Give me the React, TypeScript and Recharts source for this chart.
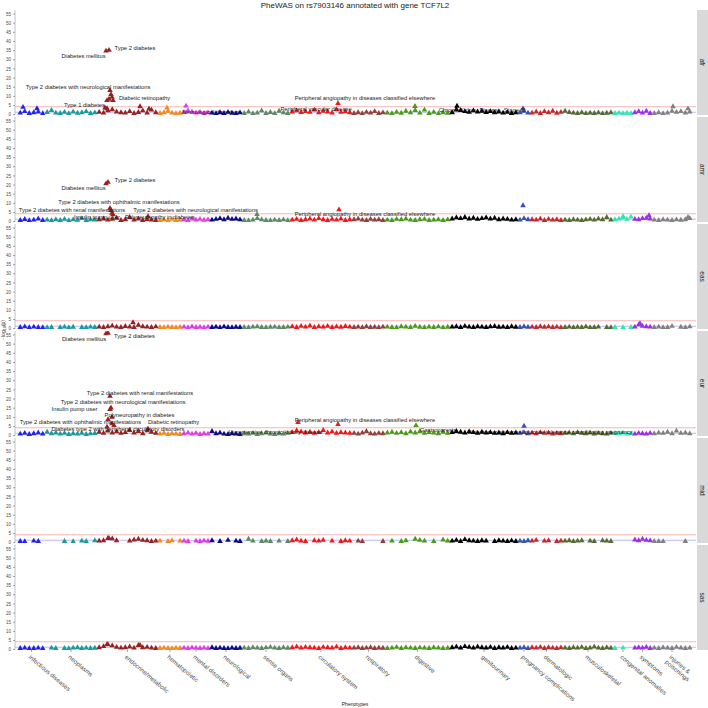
import React from "react";
import { ScatterChart, Scatter, XAxis, YAxis, ReferenceLine } from "recharts";

const categories = [
  "infectious diseases", "neoplasms", "endocrine/metabolic", "hematopoietic",
  "mental disorders", "neurological", "sense organs", "circulatory system",
  "respiratory", "digestive", "genitourinary", "pregnancy complications",
  "dermatologic", "musculoskeletal", "congenital anomalies", "symptoms",
  "injuries & poisonings",
];
const categoryColors = [
  "#2323e6", "#1a9a9a", "#962222", "#f28a1c", "#e43ce4", "#0b0b88",
  "#5f8a5f", "#f01818", "#93403a", "#4c9a16", "#000000", "#3553b0",
  "#c42a2a", "#566b30", "#2ee6b0", "#9b30e6", "#808080",
];
// phenotype index range of each category
const categorySpan: [number, number][] = [
  [3, 30], [30, 82], [82, 143], [143, 167], [167, 195], [195, 227], [227, 275],
  [275, 337], [337, 370], [370, 435], [435, 503], [503, 515], [515, 548],
  [548, 598], [598, 618], [618, 637], [637, 677],
];
const yTicks = [0, 5, 10, 15, 20, 25, 30, 35, 40, 45, 50, 55];
const bonferroni = 4.3;
const nominal = 1.3;

// background -log10(p) per category, per ancestry
const afrBase = [
  [1.2, 2.0, 1.0, 1.4, 1.8, 0.8],
  [1.5, 2.6, 1.2, 1.0, 1.6, 0.9, 1.8, 1.1, 1.4, 2.0, 1.0, 1.3],
  [1.6, 1.2, 2.5, 3.0, 1.8, 1.4, 1.2, 2.0, 1.0, 1.5, 2.4, 1.2, 2.8, 1.4],
  [1.0, 1.4, 2.2, 1.2, 0.8, 1.1],
  [1.5, 2.4, 1.8, 1.2, 1.6, 1.0, 1.3],
  [1.2, 0.9, 1.4, 1.0, 1.6, 1.1, 0.8, 1.3],
  [1.0, 1.8, 0.8, 1.2, 2.4, 1.0, 1.5, 0.9, 2.2, 1.3, 1.0],
  [1.8, 2.4, 1.5, 2.0, 1.6, 2.8, 1.4, 2.2, 1.8, 1.2, 3.0, 1.6, 1.9, 1.4],
  [1.0, 1.4, 0.8, 1.6, 1.2, 2.0, 1.0, 1.3],
  [1.2, 0.9, 1.6, 1.1, 2.2, 1.4, 2.6, 1.2, 2.8, 1.0, 1.6, 0.8, 1.4, 1.1],
  [1.4, 3.0, 2.6, 2.0, 1.6, 2.4, 1.8, 2.2, 1.5, 2.0, 1.4, 1.8, 1.2, 1.6, 1.0, 1.3],
  [1.4, 2.2, 1.2],
  [1.2, 1.8, 1.0, 2.0, 1.4, 2.2, 1.1, 1.6],
  [2.2, 1.5, 1.2, 1.0, 1.4, 0.9, 1.2, 1.0, 1.3, 0.8, 1.1, 1.4],
  [1.0, 1.2, 0.8, 1.1, 0.9],
  [1.4, 2.0, 1.2, 2.2, 1.0],
  [1.0, 1.4, 0.8, 1.2, 2.2, 1.6, 2.0, 1.2, 1.8],
];
const amrBase = [
  [1.0, 1.5, 0.8, 1.2, 1.8, 1.0],
  [1.2, 0.9, 1.4, 1.0, 1.6, 0.8, 1.3, 1.1, 2.0, 1.0, 1.4, 1.2],
  [1.4, 1.8, 1.2, 1.6, 2.2, 1.0, 1.4, 2.6, 1.2, 1.8, 1.0, 1.5, 1.2, 1.0],
  [1.0, 1.3, 0.9, 1.6, 1.0, 1.2],
  [1.4, 1.0, 1.8, 1.2, 1.6, 1.1, 1.3],
  [1.2, 1.6, 2.0, 1.4, 2.2, 1.6, 1.8, 1.3],
  [1.0, 0.8, 1.2, 2.0, 1.4, 1.0, 0.9, 1.2, 1.0, 1.3, 0.8],
  [1.2, 1.6, 1.0, 1.4, 1.8, 1.2, 2.0, 1.4, 1.0, 1.6, 1.2, 1.8, 1.0, 1.4],
  [1.4, 1.8, 1.2, 1.0, 1.6, 1.2, 1.4, 1.0],
  [1.2, 1.0, 1.6, 1.4, 1.8, 1.2, 1.0, 1.4, 1.6, 1.0, 1.2, 1.4, 1.0, 1.3],
  [1.8, 2.4, 2.0, 2.6, 1.8, 2.2, 1.6, 2.0, 2.4, 1.8, 2.2, 1.4, 1.8, 1.6, 1.2, 1.4],
  [1.2, 2.0, 1.4],
  [1.4, 1.2, 1.8, 1.0, 1.6, 1.2, 1.4, 1.0],
  [1.2, 1.0, 1.4, 1.2, 1.0, 1.3, 1.6, 1.2, 1.8, 1.4, 2.6, 1.2],
  [1.4, 1.8, 2.4, 1.6, 2.8],
  [1.6, 1.4, 2.0, 2.2, 1.8],
  [1.2, 1.0, 1.4, 1.2, 1.0, 1.3, 1.1, 1.4, 2.0],
];
const easBase = [
  [1.0, 1.3, 0.8, 1.2, 1.0, 0.9],
  [0.8, 1.0, null, 0.9, 1.2, 0.8, 1.1, null, 1.0, 0.9, 1.2, 1.0],
  [1.2, 1.0, 1.4, 1.8, 1.2, 1.0, 1.5, 1.2, 1.0, 2.2, 1.4, 1.2, 1.0, 1.3],
  [1.0, 0.8, 1.2, 1.0, 0.9, 1.1],
  [1.2, 0.9, 1.4, 1.0, 1.1, 0.8, 1.2],
  [1.0, 1.2, 0.8, 1.3, 1.0, 0.9, 1.1, 1.0],
  [1.0, 0.9, 1.2, 1.4, 1.0, 0.8, 1.1, 1.2, 0.9, 1.0, 1.2],
  [1.4, 1.0, 1.6, 1.2, 1.8, 1.0, 1.4, 1.2, 1.6, 1.0, 1.3, 1.1, 1.5, 1.2],
  [1.0, 1.2, 0.9, 1.4, 1.0, 1.1, 0.8, 1.2],
  [1.2, 1.0, 0.8, 1.4, 1.2, 1.0, 1.6, 1.1, 0.9, 1.2, 1.0, 1.3, 0.9, 1.1],
  [1.2, 1.4, 1.0, 1.6, 1.2, 1.0, 1.4, 1.2, 1.0, 1.3, 1.5, 1.1, 1.2, 1.0, 1.4, 1.1],
  [1.0, 1.4, 1.1],
  [1.2, 1.0, 1.4, 1.1, 1.3, 1.0, 1.2, 0.9],
  [1.0, 1.2, 0.9, 1.1, 1.0, 1.3, 0.9, 1.0, 1.2, null, 1.0, 0.8],
  [1.0, null, 0.9, null, 1.0],
  [1.2, 2.4, 1.6, 1.4, 1.2],
  [1.0, 1.2, 0.9, 1.0, 1.6, null, 1.1, 0.9, 1.3],
];
const eurBase = [
  [1.2, 1.6, 1.0, 1.4, 1.8, 1.2],
  [2.2, 1.4, 1.8, 1.2, 1.6, 1.0, 1.4, 1.2, 1.6, 1.0, 1.3, 1.5],
  [2.2, 1.6, 2.8, 1.8, 2.4, 1.6, 2.0, 3.2, 1.8, 2.6, 1.4, 3.0, 2.2, 1.6],
  [1.2, 1.6, 1.0, 1.4, 1.2, 1.0],
  [1.4, 1.8, 1.2, 1.6, 1.0, 1.4, 1.2],
  [2.6, 1.4, 1.8, 1.2, 1.0, 1.4, 1.2, 1.0],
  [1.4, 1.2, 1.6, 1.0, 1.4, 1.8, 1.2, 1.0, 1.4, 1.2, 1.6],
  [2.0, 3.0, 2.4, 1.8, 2.2, 1.6, 2.0, 3.2, 1.8, 2.4, 1.6, 2.0, 1.8, 1.6],
  [1.6, 1.2, 1.8, 2.6, 1.4, 1.2, 1.6, 1.4],
  [1.8, 2.2, 1.6, 2.0, 1.4, 2.4, 1.8, 2.6, 1.6, 2.0, 1.8, 1.4, 2.2, 1.6],
  [2.0, 2.6, 2.2, 1.8, 2.4, 2.0, 1.6, 2.2, 1.8, 2.0, 1.6, 1.8, 1.4, 2.0, 1.6, 1.8],
  [1.6, 2.0, 1.4],
  [1.8, 1.4, 2.0, 1.6, 1.8, 1.2, 1.6, 1.4],
  [1.6, 1.8, 1.4, 2.0, 1.6, 1.4, 1.8, 1.2, 1.6, 1.4, 1.2, 1.6],
  [1.6, 1.4, 1.8, 1.2, 1.4],
  [1.2, 1.6, 1.4, 1.2, 1.6],
  [1.4, 1.8, 1.6, 2.2, 1.4, 2.8, 1.6, 1.8, 1.4],
];
const midBase = [
  [1.0, 0.8, null, 1.2, 1.0, null],
  [null, null, null, null, 1.0, null, 0.8, null, 1.2, 1.0, null, 1.4],
  [1.2, 1.4, 2.6, 2.4, 1.4, null, null, 1.2, 1.8, 2.2, 1.6, 1.4, 1.0, 1.2],
  [1.2, null, 1.0, 1.4, null, 1.2],
  [1.2, 1.0, null, 1.2, 1.0, 1.3, 1.1],
  [1.4, null, 1.0, null, 1.6, null, 1.2, 1.0],
  [null, 2.2, 1.2, null, 1.0, 1.2, 1.0, null, 1.2, null, 1.0],
  [1.4, 1.8, 1.2, 1.0, null, 1.4, 1.2, 1.6, null, 1.2, null, 1.0, 1.4, 1.2],
  [null, 1.2, 1.0, null, null, null, null, 1.0],
  [null, 1.2, null, 1.0, 1.4, null, 2.2, 1.6, 1.2, null, 1.0, null, 1.8, 1.2],
  [1.2, 1.6, 1.0, 2.0, 1.4, 1.2, 1.0, 1.4, 1.2, null, 1.0, 1.4, 1.2, 1.0, 1.3, 1.0],
  [1.2, 1.0, 1.4],
  [1.2, 1.6, null, 1.2, 1.4, null, 1.0, 1.2],
  [1.2, 1.4, 1.0, 1.2, 1.4, null, 1.2, 1.0, null, 1.4, 1.2, 1.0],
  [null, null, null, null, null],
  [1.8, 1.4, 2.2, 1.6, 1.4],
  [1.0, 1.0, 0.9, null, null, null, null, 1.0, null],
];
const sasBase = [
  [1.0, 1.2, 0.8, 1.0, 1.2, 0.9],
  [null, 1.2, 1.0, null, 1.0, 0.8, 1.2, 1.4, 1.0, 1.2, 1.0, 1.1],
  [1.4, 2.0, 3.0, 2.4, 1.6, 1.2, 1.4, 1.8, 1.2, 2.6, 1.4, 1.6, 1.2, 1.0],
  [1.0, 1.2, 1.0, 0.8, 1.1, 1.0],
  [1.2, 1.0, 1.3, 1.1, 1.0, 1.2, 0.9],
  [1.4, 1.0, 1.2, 1.0, 0.8, 1.2, 1.0, 1.1],
  [1.2, 1.0, 1.4, 1.2, 1.0, 1.3, 1.6, 1.2, 1.0, 1.4, 1.1],
  [1.4, 1.8, 1.2, 1.6, 1.4, 1.2, 1.0, 1.6, 1.4, 1.2, 1.8, 1.0, 1.4, 1.2],
  [1.2, 1.4, 1.0, 1.2, 1.4, 1.0, 1.2, 1.1],
  [1.0, 1.2, 1.6, 1.0, 1.4, 1.2, 1.0, 1.3, 1.2, 1.0, 1.4, 1.2, 1.0, 1.1],
  [1.4, 1.8, 1.2, 2.0, 1.6, 1.2, 1.8, 1.4, 1.2, 1.6, 1.0, 1.4, 1.2, 1.6, 1.0, 1.2],
  [1.2, 1.4, 1.0],
  [1.4, 1.2, 1.6, 1.0, 1.4, 1.2, 1.0, 1.3],
  [1.2, 1.0, 1.4, 1.2, 1.6, 1.0, 1.2, 1.8, 1.2, 1.0, 1.4, 1.1],
  [1.0, null, 1.2, null, null],
  [1.2, 1.4, 1.2, 1.6, 1.0],
  [1.2, 1.0, 1.4, 1.2, 1.0, 1.6, 1.2, 1.0, 1.2],
];

// stronger associations: [phenotype index, -log10(p), category]
const afrHits = [
  [91, 35.1, 2], [94, 35.5, 2], [95, 13.5, 2], [96, 11.3, 2], [97, 9.8, 2],
  [94, 8.8, 2], [92, 8.0, 2], [98, 8.0, 2], [90, 4.0, 2], [92, 3.6, 2],
  [125, 4.7, 2], [134, 3.4, 2], [8, 4.3, 0], [22, 3.6, 0], [152, 4.0, 3],
  [171, 5.0, 4], [323, 6.4, 7], [400, 4.8, 9], [442, 4.9, 10], [508, 3.5, 11],
  [658, 4.7, 16], [673, 3.5, 16],
];
const amrHits = [
  [91, 21.0, 2], [93, 21.8, 2], [95, 7.6, 2], [96, 6.4, 2], [97, 4.9, 2],
  [98, 4.2, 2], [133, 3.1, 2], [242, 4.2, 6], [324, 6.8, 7], [508, 9.0, 11],
  [608, 3.0, 14], [634, 3.6, 15], [673, 2.6, 16],
];
const easHits = [[118, 3.6, 2], [625, 3.0, 15]];
const eurHits = [
  [91, 56.0, 2], [93, 56.3, 2], [95, 21.8, 2], [96, 15.5, 2], [95, 14.6, 2],
  [97, 10.4, 2], [93, 9.0, 2], [97, 6.8, 2], [99, 5.8, 2], [92, 5.0, 2],
  [133, 4.0, 2], [283, 7.5, 7], [323, 6.4, 7], [401, 5.8, 9], [509, 5.5, 11],
];
const midHits = [[94, 2.6, 2]];
const sasHits = [[92, 3.1, 2], [125, 2.6, 2]];

const afrLabels = [
  "Type 2 diabetes", "Diabetes mellitus",
  "Type 2 diabetes with neurological manifestations", "Diabetic retinopathy",
  "Type 1 diabetes", "Neurological disorders",
  "Peripheral angiopathy in diseases classified elsewhere",
  "Peripheral vascular disease", "Chronic Kidney Disease, Stage III",
];
const afrLabelAt = [
  [120, 36.6], [68.5, 32.2], [73, 14.9], [129.5, 9.1], [69.5, 5.3],
  [196, 1.4], [350, 9.1], [301, 3.1], [467, 2.5],
];
const amrLabels = [
  "Type 2 diabetes", "Diabetes mellitus",
  "Type 2 diabetes with ophthalmic manifestations",
  "Type 2 diabetes with renal manifestations",
  "Type 2 diabetes with neurological manifestations",
  "Insulin pump user", "Polyneuropathy in diabetes",
  "Peripheral angiopathy in diseases classified elsewhere",
];
const amrLabelAt = [
  [120, 22.9], [68.5, 18.5], [104, 10.8], [57, 6.6], [180.5, 6.4],
  [82, 2.5], [145, 2.5], [350, 4.2],
];
const eurLabels = [
  "Type 2 diabetes", "Diabetes mellitus",
  "Type 2 diabetes with renal manifestations",
  "Type 2 diabetes with neurological manifestations",
  "Insulin pump user", "Polyneuropathy in diabetes",
  "Type 2 diabetes with ophthalmic manifestations", "Diabetic retinopathy",
  "Diabetes type 2 with peripheral circulatory disorders",
  "Hypertensive chronic kidney disease",
  "Peripheral angiopathy in diseases classified elsewhere", "Gastroparesis",
  "Diabetes or abnormal glucose tolerance complicating pregnancy",
];
const eurLabelAt = [
  [119.5, 54.7], [69, 53.1], [125, 23.4], [108, 18.5], [59.5, 14.6],
  [124.5, 11.3], [65.5, 7.5], [158.5, 7.5], [103, 3.6], [260.5, 2.0],
  [350, 8.6], [423, 3.1], [535, 2.0],
];

const FONT = "'Liberation Sans', Arial, Helvetica, sans-serif";
const categoryTicks = categorySpan.map(([a, b]) => (a + b) / 2);
const PANEL_H = 105;
const PAD = 5;

function triPath(cx: number, cy: number) {
  return `M${cx},${cy - 2.8}L${cx + 2.8},${cy + 2.1}L${cx - 2.8},${cy + 2.1}Z`;
}

function CategoryTick(props: any) {
  const { x, y, payload } = props;
  const idx = categoryTicks.findIndex((t) => Math.abs(t - payload.value) < 0.01);
  const name = categories[idx] ?? "";
  const lines = name === "injuries & poisonings" ? ["injuries &", "poisonings"] : [name];
  return (
    <g transform={`translate(${x},${y}) rotate(40)`}>
      <text x={0} y={0} fontSize={6.2} fill="#4d4d4d" fontFamily={FONT} dominantBaseline="hanging">
        {lines.map((l, i) => (
          <tspan key={l} x={0} dy={i === 0 ? 0 : 6.5}>
            {l}
          </tspan>
        ))}
      </text>
    </g>
  );
}

function Panel({ name, top, base, hits, labels, labelAt, bottom }: any) {
  const series = (base as (number | null)[][]).map((vals, c) => {
    const [a, b] = categorySpan[c];
    const step = (b - a) / vals.length;
    return vals
      .map((v, i) => (v == null ? null : { x: a + step * (i + 0.5), y: v }))
      .filter(Boolean);
  });
  const hitData = (hits as number[][]).map(([x, y, c]) => ({ x, y, color: categoryColors[c] }));
  const labelData = (labels as string[]).map((text, i) => ({ x: labelAt[i][0], y: labelAt[i][1], text }));

  return (
    <>
      <div style={{ position: "absolute", left: 0, top }}>
        <ScatterChart
          width={696}
          height={bottom ? PANEL_H + 55 : PANEL_H + PAD}
          margin={{ top: 0, right: 0, bottom: bottom ? 0 : PAD, left: 0 }}
        >
          <XAxis
            type="number"
            dataKey="x"
            domain={[0, 681]}
            allowDataOverflow
            ticks={categoryTicks}
            interval={0}
            hide={!bottom}
            height={bottom ? 55 : 0}
            axisLine={false}
            tickLine={{ stroke: "#4d4d4d", strokeWidth: 0.5 }}
            tickSize={2}
            tick={<CategoryTick />}
          />
          <YAxis
            type="number"
            dataKey="y"
            domain={[-0.2, 57.2]}
            allowDataOverflow
            ticks={yTicks}
            interval={0}
            width={15}
            axisLine={{ stroke: "#b3b3b3", strokeWidth: 0.8 }}
            tickLine={{ stroke: "#4d4d4d", strokeWidth: 0.5 }}
            tickSize={2}
            tick={{ fontSize: 4.6, fill: "#4d4d4d", fontFamily: FONT }}
          />
          <ReferenceLine y={bonferroni} stroke="#f2a3a3" strokeWidth={0.8} />
          <ReferenceLine y={nominal} stroke="#a9a9f2" strokeWidth={0.8} />
          {series.map((d, c) => (
            <Scatter
              key={c}
              data={d as any[]}
              isAnimationActive={false}
              shape={(p: any) => <path d={triPath(p.cx, p.cy)} fill={categoryColors[c]} />}
            />
          ))}
          <Scatter
            data={hitData}
            isAnimationActive={false}
            shape={(p: any) => <path d={triPath(p.cx, p.cy)} fill={p.payload.color} />}
          />
          <Scatter
            data={labelData}
            isAnimationActive={false}
            shape={(p: any) => (
              <text
                x={p.cx}
                y={p.cy}
                textAnchor="middle"
                dominantBaseline="central"
                fontSize={5.8}
                fill="#1a1a1a"
                fontFamily={FONT}
              >
                {p.payload.text}
              </text>
            )}
          />
        </ScatterChart>
      </div>
      <svg width={11} height={PANEL_H} style={{ position: "absolute", left: 697, top }}>
        <rect x={0} y={0} width={11} height={PANEL_H} fill="#d9d9d9" />
        <text
          transform={`translate(5.5,${PANEL_H / 2}) rotate(90)`}
          textAnchor="middle"
          dominantBaseline="central"
          fontSize={6.5}
          fill="#1a1a1a"
          fontFamily={FONT}
        >
          {name}
        </text>
      </svg>
    </>
  );
}

const panels = [
  { name: "afr", base: afrBase, hits: afrHits, labels: afrLabels, labelAt: afrLabelAt },
  { name: "amr", base: amrBase, hits: amrHits, labels: amrLabels, labelAt: amrLabelAt },
  { name: "eas", base: easBase, hits: easHits, labels: [], labelAt: [] },
  { name: "eur", base: eurBase, hits: eurHits, labels: eurLabels, labelAt: eurLabelAt },
  { name: "mid", base: midBase, hits: midHits, labels: [], labelAt: [] },
  { name: "sas", base: sasBase, hits: sasHits, labels: [], labelAt: [] },
];

export default function App() {
  return (
    <div
      style={{
        position: "absolute",
        left: 0,
        top: 0,
        width: 708,
        height: 708,
        background: "#fff",
        overflow: "hidden",
      }}
    >
      <svg width={708} height={708} style={{ position: "absolute", left: 0, top: 0 }}>
        <text x={355} y={8} textAnchor="middle" fontSize={8} fill="#1a1a1a" fontFamily={FONT}>
          PheWAS on rs7903146 annotated with gene TCF7L2
        </text>
        <text
          transform="translate(4.5,330) rotate(-90)"
          textAnchor="middle"
          fontSize={5}
          fill="#1a1a1a"
          fontFamily={FONT}
        >
          - log<tspan fontSize={3.8} dy={1.2}>10</tspan>
          <tspan dy={-1.2}>(p)</tspan>
        </text>
        <text x={355} y={706} textAnchor="middle" fontSize={5} fill="#1a1a1a" fontFamily={FONT}>
          Phenotypes
        </text>
      </svg>
      {panels.map((p, i) => (
        <Panel key={p.name} {...p} top={10 + i * 107} bottom={i === panels.length - 1} />
      ))}
    </div>
  );
}
